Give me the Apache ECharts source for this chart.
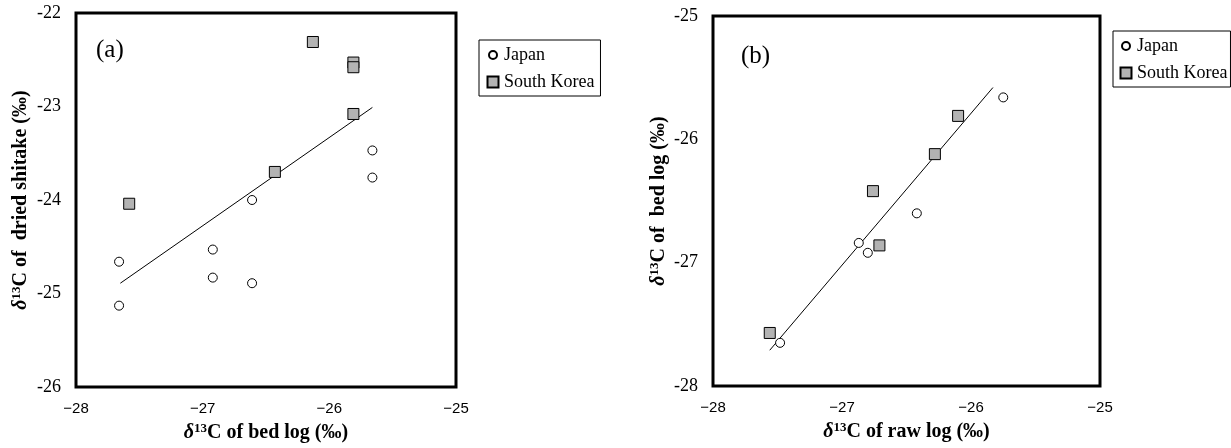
<!DOCTYPE html>
<html>
<head>
<meta charset="utf-8">
<script src="https://cdn.jsdelivr.net/npm/echarts@6/dist/echarts.min.js"></script>
<style>html,body{margin:0;padding:0;background:#fff}#c{width:1231px;height:448px}</style>
</head>
<body>
<div id="c"></div>
<script>
// Panel (a): δ13C of bed log (x) vs dried shitake (y)
var aJapanX = [-25.66, -25.66, -26.61, -26.92, -26.92, -26.61, -27.66, -27.66];
var aJapanY = [-23.47, -23.76, -24.00, -24.53, -24.83, -24.89, -24.66, -25.13];
var aKoreaX = [-26.13, -25.81, -25.81, -25.81, -26.43, -27.58];
var aKoreaY = [-22.31, -22.53, -22.58, -23.08, -23.70, -24.04];
var aTrendX = [-27.65, -25.66];
var aTrendY = [-24.89, -23.01];
// Panel (b): δ13C of raw log (x) vs bed log (y)
var bJapanX = [-27.48, -26.87, -26.80, -26.42, -25.75];
var bJapanY = [-27.65, -26.84, -26.92, -26.60, -25.66];
var bKoreaX = [-27.56, -26.76, -26.71, -26.28, -26.10];
var bKoreaY = [-27.57, -26.42, -26.86, -26.12, -25.81];
var bTrendX = [-27.56, -25.83];
var bTrendY = [-27.71, -25.58];
// Axis ranges / ticks
var xTicks = [-28, -27, -26, -25];
var aYTicks = [-26, -25, -24, -23, -22];
var bYTicks = [-28, -27, -26, -25];
var seriesNames = ['Japan', 'South Korea'];

function pairs(xs, ys) { return xs.map(function (x, i) { return [x, ys[i]]; }); }

var SERIF = "'Liberation Serif','Times New Roman',serif";
var SANS = "'Liberation Sans',Arial,sans-serif";

function titleRich(rest) {
  return {
    text: '{d|δ}{s|13}{n|C of ' + rest + ' (‰)}',
    rich: {
      d: { fontFamily: SERIF, fontSize: 20, fontWeight: 'bold', fontStyle: 'italic', color: '#000', lineHeight: 22 },
      s: { fontFamily: SERIF, fontSize: 13, fontWeight: 'bold', color: '#000', verticalAlign: 'top', lineHeight: 22 },
      n: { fontFamily: SERIF, fontSize: 20, fontWeight: 'bold', color: '#000', lineHeight: 22 }
    }
  };
}

function xAxisDef(gridIndex, rest) {
  var t = titleRich(rest);
  return {
    type: 'value', gridIndex: gridIndex,
    min: xTicks[0], max: xTicks[xTicks.length - 1], interval: 1,
    name: t.text, nameLocation: 'middle', nameGap: 35,
    nameTextStyle: { rich: t.rich },
    axisLine: { show: false }, axisTick: { show: false }, splitLine: { show: false },
    axisLabel: {
      margin: 14, fontFamily: SANS, fontSize: 15, color: '#000',
      formatter: function (v) { return String(v).replace('-', '\u2212'); }
    }
  };
}
function yAxisDef(gridIndex, ticks, rest, gap) {
  var t = titleRich(rest);
  return {
    type: 'value', gridIndex: gridIndex,
    min: ticks[0], max: ticks[ticks.length - 1], interval: 1,
    name: t.text, nameLocation: 'middle', nameRotate: 90, nameGap: gap,
    nameTextStyle: { rich: t.rich },
    axisLine: { show: false }, axisTick: { show: false }, splitLine: { show: false },
    axisLabel: { margin: 15, fontFamily: SERIF, fontSize: 18, color: '#000' }
  };
}

var circleIcon = 'path://M0,0M12,12M2,6a4,4 0 1,0 8,0a4,4 0 1,0 -8,0Z';
var rectIcon = 'path://M0,0M12,12M0.5,0.5L11.5,0.5L11.5,11.5L0.5,11.5Z';

function legendDef(left, top, pad) {
  return {
    orient: 'vertical', left: left, top: top,
    padding: pad, itemGap: 9, itemWidth: 12, itemHeight: 12,
    borderColor: '#000', borderWidth: 1, borderRadius: 0,
    textStyle: { fontFamily: SERIF, fontSize: 18, color: '#000' },
    selectedMode: false,
    data: [
      { name: seriesNames[0], icon: circleIcon },
      { name: seriesNames[1], icon: rectIcon }
    ]
  };
}

function japanSeries(xi, data) {
  return {
    name: seriesNames[0], type: 'scatter', xAxisIndex: xi, yAxisIndex: xi, z: 3,
    symbol: 'circle', symbolSize: 9, data: data,
    itemStyle: { color: '#fff', borderColor: '#000', borderWidth: 1, opacity: 1 },
    emphasis: { disabled: true }
  };
}
function koreaSeries(xi, data) {
  return {
    name: seriesNames[1], type: 'scatter', xAxisIndex: xi, yAxisIndex: xi, z: 3,
    symbol: 'rect', symbolSize: 11, data: data,
    itemStyle: { color: '#b3b3b3', borderColor: '#000', borderWidth: 1, opacity: 1 },
    emphasis: { disabled: true }
  };
}
function trendSeries(xi, data) {
  return {
    name: 'trend' + xi, type: 'line', xAxisIndex: xi, yAxisIndex: xi, z: 2,
    data: data, symbol: 'none', showSymbol: false, silent: true,
    lineStyle: { color: '#000', width: 1 }
  };
}

var chart = echarts.init(document.getElementById('c'), null, { renderer: 'canvas' });
chart.setOption({
  animation: false,
  backgroundColor: '#fff',
  grid: [
    { left: 76, top: 13, width: 380, height: 374, show: true, borderColor: '#000', borderWidth: 3, backgroundColor: 'transparent' },
    { left: 713, top: 16, width: 387, height: 370, show: true, borderColor: '#000', borderWidth: 3, backgroundColor: 'transparent' }
  ],
  xAxis: [xAxisDef(0, 'bed log'), xAxisDef(1, 'raw log')],
  yAxis: [yAxisDef(0, aYTicks, ' dried shitake', 44), yAxisDef(1, bYTicks, ' bed log', 43)],
  legend: [legendDef(479, 40, [6, 6, 5, 7]), legendDef(1113, 31, [6, 3, 5, 6])],
  graphic: [
    { type: 'text', left: 96, top: 38, style: { text: '(a)', fontFamily: SERIF, fontSize: 25, fill: '#000' } },
    { type: 'text', left: 741, top: 44, style: { text: '(b)', fontFamily: SERIF, fontSize: 25, fill: '#000' } }
  ],
  series: [
    trendSeries(0, pairs(aTrendX, aTrendY)),
    japanSeries(0, pairs(aJapanX, aJapanY)),
    koreaSeries(0, pairs(aKoreaX, aKoreaY)),
    trendSeries(1, pairs(bTrendX, bTrendY)),
    japanSeries(1, pairs(bJapanX, bJapanY)),
    koreaSeries(1, pairs(bKoreaX, bKoreaY))
  ]
});
</script>
</body>
</html>
